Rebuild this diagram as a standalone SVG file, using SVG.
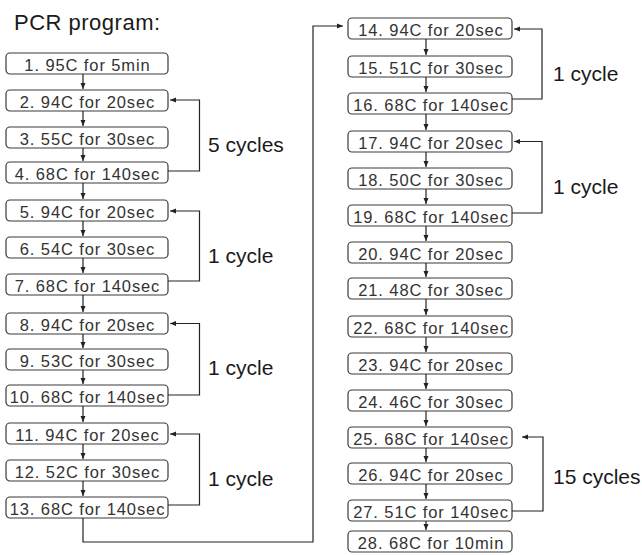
<svg xmlns="http://www.w3.org/2000/svg" width="642" height="555" viewBox="0 0 642 555">
<defs>
<style>
.box rect{fill:#fff;stroke:#3a3a3a;stroke-width:1.2}
.box text{font-family:"Liberation Sans",Arial,sans-serif;font-size:16.5px;letter-spacing:0.9px;fill:#333;text-anchor:middle}
.lbl{font-family:"Liberation Sans",Arial,sans-serif;font-size:21px;fill:#1a1a1a}
.title{font-family:"Liberation Sans",Arial,sans-serif;font-size:22px;letter-spacing:0.5px;fill:#1a1a1a}
#connectors path{fill:none;stroke:#222;stroke-width:1.2;marker-end:url(#ah)}
</style>
<marker id="ah" markerWidth="6" markerHeight="6" refX="6" refY="3" orient="auto" markerUnits="userSpaceOnUse"><path d="M0,0.5 L6,3 L0,5.5 z" fill="#222"/></marker>
</defs>
<rect width="642" height="555" fill="#fff"/>
<text class="title" x="14" y="30">PCR program:</text>

<g id="n1" class="box"><rect x="6" y="53" width="162" height="21" rx="4"/><text x="87.5" y="70.5">1. 95C for 5min</text></g>
<g id="n2" class="box"><rect x="6" y="90" width="162" height="21" rx="4"/><text x="87.5" y="107.5">2. 94C for 20sec</text></g>
<g id="n3" class="box"><rect x="6" y="127" width="162" height="21" rx="4"/><text x="87.5" y="144.5">3. 55C for 30sec</text></g>
<g id="n4" class="box"><rect x="6" y="162" width="162" height="21" rx="4"/><text x="87.5" y="179.5">4. 68C for 140sec</text></g>
<g id="n5" class="box"><rect x="6" y="200" width="162" height="21" rx="4"/><text x="87.5" y="217.5">5. 94C for 20sec</text></g>
<g id="n6" class="box"><rect x="6" y="237" width="162" height="21" rx="4"/><text x="87.5" y="254.5">6. 54C for 30sec</text></g>
<g id="n7" class="box"><rect x="6" y="274" width="162" height="21" rx="4"/><text x="87.5" y="291.5">7. 68C for 140sec</text></g>
<g id="n8" class="box"><rect x="6" y="313" width="162" height="21" rx="4"/><text x="87.5" y="330.5">8. 94C for 20sec</text></g>
<g id="n9" class="box"><rect x="6" y="349" width="162" height="21" rx="4"/><text x="87.5" y="366.5">9. 53C for 30sec</text></g>
<g id="n10" class="box"><rect x="6" y="385" width="162" height="21" rx="4"/><text x="87.5" y="402.5">10. 68C for 140sec</text></g>
<g id="n11" class="box"><rect x="6" y="423" width="162" height="21" rx="4"/><text x="87.5" y="440.5">11. 94C for 20sec</text></g>
<g id="n12" class="box"><rect x="6" y="460" width="162" height="21" rx="4"/><text x="87.5" y="477.5">12. 52C for 30sec</text></g>
<g id="n13" class="box"><rect x="6" y="497" width="162" height="21" rx="4"/><text x="87.5" y="514.5">13. 68C for 140sec</text></g>

<g id="n14" class="box"><rect x="348" y="18" width="164" height="21" rx="4"/><text x="431" y="35.5">14. 94C for 20sec</text></g>
<g id="n15" class="box"><rect x="348" y="56" width="164" height="21" rx="4"/><text x="431" y="73.5">15. 51C for 30sec</text></g>
<g id="n16" class="box"><rect x="348" y="93" width="164" height="21" rx="4"/><text x="431" y="110.5">16. 68C for 140sec</text></g>
<g id="n17" class="box"><rect x="348" y="131" width="164" height="21" rx="4"/><text x="431" y="148.5">17. 94C for 20sec</text></g>
<g id="n18" class="box"><rect x="348" y="168" width="164" height="21" rx="4"/><text x="431" y="185.5">18. 50C for 30sec</text></g>
<g id="n19" class="box"><rect x="348" y="205" width="164" height="21" rx="4"/><text x="431" y="222.5">19. 68C for 140sec</text></g>
<g id="n20" class="box"><rect x="348" y="242" width="164" height="21" rx="4"/><text x="431" y="259.5">20. 94C for 20sec</text></g>
<g id="n21" class="box"><rect x="348" y="278" width="164" height="21" rx="4"/><text x="431" y="295.5">21. 48C for 30sec</text></g>
<g id="n22" class="box"><rect x="348" y="316" width="164" height="21" rx="4"/><text x="431" y="333.5">22. 68C for 140sec</text></g>
<g id="n23" class="box"><rect x="348" y="353" width="164" height="21" rx="4"/><text x="431" y="370.5">23. 94C for 20sec</text></g>
<g id="n24" class="box"><rect x="348" y="390" width="164" height="21" rx="4"/><text x="431" y="407.5">24. 46C for 30sec</text></g>
<g id="n25" class="box"><rect x="348" y="427" width="164" height="21" rx="4"/><text x="431" y="444.5">25. 68C for 140sec</text></g>
<g id="n26" class="box"><rect x="348" y="463" width="164" height="21" rx="4"/><text x="431" y="480.5">26. 94C for 20sec</text></g>
<g id="n27" class="box"><rect x="348" y="500" width="164" height="21" rx="4"/><text x="431" y="517.5">27. 51C for 140sec</text></g>
<g id="n28" class="box"><rect x="348" y="531" width="164" height="21" rx="4"/><text x="431" y="548.5">28. 68C for 10min</text></g>

<g id="connectors">
<path d="M83,74 V89"/>
<path d="M83,111 V126"/>
<path d="M83,148 V161"/>
<path d="M83,183 V199"/>
<path d="M83,221 V236"/>
<path d="M83,258 V273"/>
<path d="M83,295 V312"/>
<path d="M83,334 V348"/>
<path d="M83,370 V384"/>
<path d="M83,406 V422"/>
<path d="M83,444 V459"/>
<path d="M83,481 V496"/>
<path d="M426,39 V55"/>
<path d="M426,77 V92"/>
<path d="M426,114 V130"/>
<path d="M426,152 V167"/>
<path d="M426,189 V204"/>
<path d="M426,226 V241"/>
<path d="M426,263 V277"/>
<path d="M426,299 V315"/>
<path d="M426,337 V352"/>
<path d="M426,374 V389"/>
<path d="M426,411 V426"/>
<path d="M426,448 V462"/>
<path d="M426,484 V499"/>
<path d="M426,521 V530"/>
<path d="M168,171 H199.5 V100 H170"/>
<path d="M168,281 H199.5 V211 H170"/>
<path d="M168,395 H199.5 V323.5 H170"/>
<path d="M168,505 H199.5 V434 H170"/>
<path d="M512,99 H542 V29 H514"/>
<path d="M512,213 H542 V141.5 H514"/>
<path d="M512,511 H543 V437 H522"/>
<path d="M83,518 V542 H313 V26 H343"/>
</g>

<text class="lbl" x="208" y="152">5 cycles</text>
<text class="lbl" x="208" y="263">1 cycle</text>
<text class="lbl" x="208" y="375">1 cycle</text>
<text class="lbl" x="208" y="486">1 cycle</text>
<text class="lbl" x="553" y="81">1 cycle</text>
<text class="lbl" x="553" y="194">1 cycle</text>
<text class="lbl" x="553" y="484">15 cycles</text>
</svg>
